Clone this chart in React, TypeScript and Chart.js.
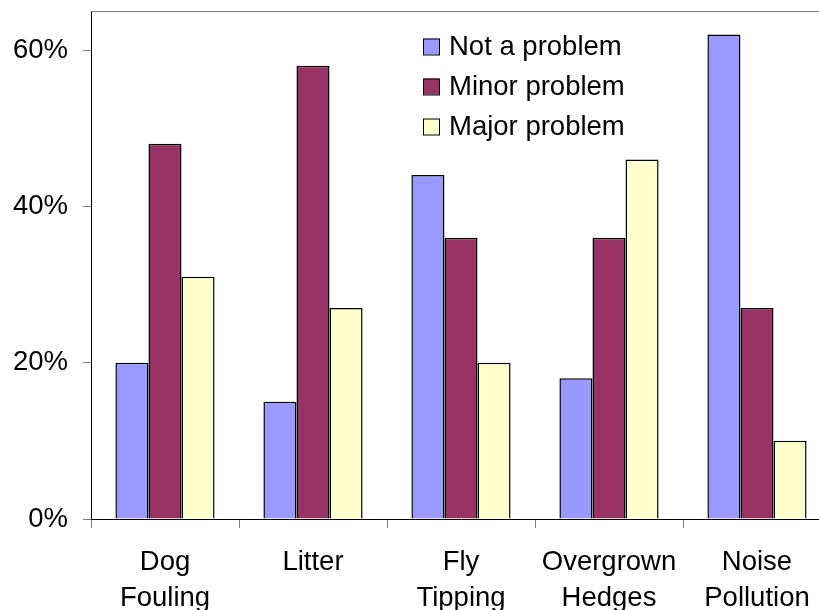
import React, { useEffect, useRef } from "react";
import { Chart, registerables } from "chart.js";

Chart.register(...registerables);

const categories: string[][] = [
  ["Dog", "Fouling"],
  ["Litter"],
  ["Fly", "Tipping"],
  ["Overgrown", "Hedges"],
  ["Noise", "Pollution"],
];
const seriesNames = ["Not a problem", "Minor problem", "Major problem"];
const notAProblem = [0.2, 0.15, 0.44, 0.18, 0.62];
const minorProblem = [0.48, 0.58, 0.36, 0.36, 0.27];
const majorProblem = [0.31, 0.27, 0.2, 0.46, 0.1];
const yTicks = [0, 0.2, 0.4, 0.6];
const colors = ["#9999FF", "#993366", "#FFFFCC"];

const FONT = "'Liberation Sans', Arial, sans-serif";

export default function App() {
  const ref = useRef<HTMLCanvasElement>(null);
  useEffect(() => {
    if (!ref.current) return;
    const legendPlugin = {
      id: "insideLegend",
      afterDraw(chart: any) {
        const ctx = chart.ctx;
        ctx.save();
        const a = chart.chartArea;
        ctx.strokeStyle = "#808080";
        ctx.lineWidth = 1;
        ctx.beginPath();
        ctx.moveTo(a.left, a.top + 0.5);
        ctx.lineTo(a.right, a.top + 0.5);
        ctx.stroke();
        ctx.font = `27.5px ${FONT}`;
        ctx.textBaseline = "middle";
        ctx.textAlign = "left";
        chart.data.datasets.forEach((ds: any, i: number) => {
          const cy = 46.5 + i * 40;
          ctx.fillStyle = ds.backgroundColor;
          ctx.fillRect(423, cy - 8, 16, 16);
          ctx.strokeStyle = "#000";
          ctx.strokeRect(423.5, cy - 7.5, 16, 16);
          ctx.fillStyle = "#000";
          ctx.fillText(ds.label, 449, cy + 1);
        });
        ctx.restore();
      },
    };
    const chart = new Chart(ref.current, {
      type: "bar",
      data: {
        labels: categories,
        datasets: [notAProblem, minorProblem, majorProblem].map((d, i) => ({
          label: seriesNames[i],
          data: d,
          backgroundColor: colors[i],
          borderColor: "#000",
          borderWidth: 1.5,
          categoryPercentage: 0.67,
          barPercentage: 1.0,
        })),
      },
      options: {
        responsive: false,
        animation: false,
        devicePixelRatio: 1,
        layout: { autoPadding: false, padding: { top: 11, right: 9, left: 0, bottom: 0 } },
        plugins: { legend: { display: false }, tooltip: { enabled: false } },
        scales: {
          x: {
            grid: {
              drawOnChartArea: false,
              drawTicks: true,
              tickLength: 9,
              color: "#808080",
              offset: true,
            },
            border: { color: "#000", width: 1 },
            ticks: {
              color: "#000",
              font: { family: FONT, size: 27.5, lineHeight: 1.33 },
              padding: 16,
              maxRotation: 0,
              autoSkip: false,
            },
            afterFit: (s: any) => {
              s.height = 91;
              s.paddingLeft = 0;
              s.paddingRight = 0;
            },
          },
          y: {
            min: 0,
            max: 0.65,
            afterBuildTicks: (s: any) => {
              s.ticks = yTicks.map((v) => ({ value: v }));
            },
            grid: {
              drawOnChartArea: false,
              drawTicks: true,
              tickLength: 8,
              color: "#808080",
            },
            border: { color: "#000", width: 1 },
            ticks: {
              color: "#000",
              font: { family: FONT, size: 27.5 },
              padding: 15,
              callback: (v: any) => Math.round(Number(v) * 100) + "%",
            },
            afterFit: (s: any) => {
              s.width = 91;
              s.paddingTop = 0;
              s.paddingBottom = 0;
            },
          },
        },
      },
      plugins: [legendPlugin],
    });
    return () => chart.destroy();
  }, []);
  return (
    <div
      style={{
        position: "fixed",
        left: 0,
        top: 0,
        width: 819,
        height: 610,
        overflow: "hidden",
        background: "#fff",
      }}
    >
      <canvas ref={ref} width={840} height={610} style={{ display: "block" }} />
    </div>
  );
}
